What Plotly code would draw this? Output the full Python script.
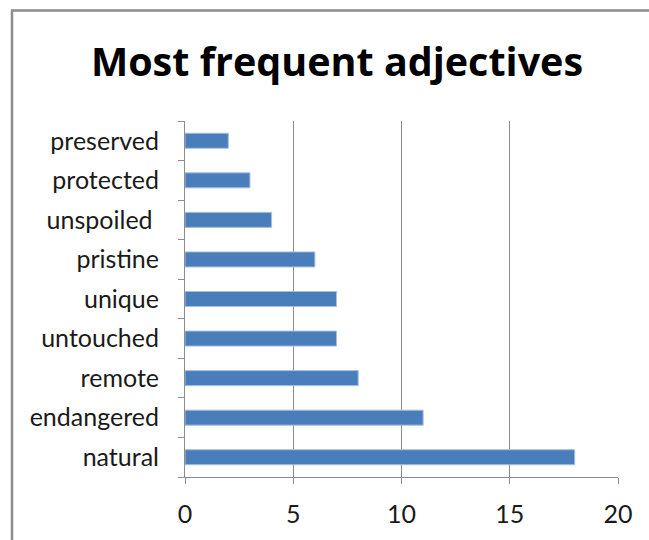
import plotly.graph_objects as go

categories = ["natural", "endangered", "remote", "untouched", "unique",
              "pristine", "unspoiled\u00a0", "protected", "preserved"]
counts = [18, 11, 8, 7, 7, 6, 4, 3, 2]
x_ticks = [0, 5, 10, 15, 20]

W, H = 649, 540
L, R, T, B = 185, 649 - 618, 120.5, 540 - 480
pw, ph = W - L - R, H - T - B

def px_x(px):
    return (px - L) / pw

def px_y(py):
    return 1 - (py - T) / ph

fig = go.Figure()
fig.add_trace(go.Bar(
    x=counts, y=categories, orientation="h",
    marker=dict(color="#4A7EBB", line=dict(color="#A7C0E0", width=1)),
    width=0.38,
))

gray = "#8C8C8C"
font = "Lato, Carlito, Calibri, sans-serif"

fig.update_layout(
    width=W, height=H,
    margin=dict(l=L, r=R, t=T, b=B),
    paper_bgcolor="white", plot_bgcolor="white",
    showlegend=False,
    title=dict(text="<b>Most frequent adjectives</b>", x=337 / W, xanchor="center",
               y=1 - 62 / H, yanchor="middle",
               font=dict(family="Open Sans, sans-serif", size=39.5, color="#000000")),
    font=dict(family=font, size=25, color="#1a1a1a"),
    xaxis=dict(range=[0, 20], tickvals=x_ticks, ticktext=[str(v) for v in x_ticks],
               showgrid=True, gridcolor=gray, gridwidth=1,
               showline=True, linecolor=gray, linewidth=1,
               ticks="outside", ticklen=6, tickcolor=gray,
               zeroline=False, ticklabelstandoff=9, fixedrange=True),
    yaxis=dict(categoryorder="array", categoryarray=categories,
               showgrid=False, showline=True, linecolor=gray, linewidth=1,
               ticks="outside", ticklen=6, tickcolor=gray, tickson="boundaries",
               ticklabelstandoff=20, fixedrange=True),
    shapes=[
        dict(type="line", xref="paper", yref="paper",
             x0=px_x(12), x1=px_x(12), y0=px_y(560), y1=px_y(9),
             line=dict(color=gray, width=2.5)),
        dict(type="line", xref="paper", yref="paper",
             x0=px_x(11), x1=px_x(660), y0=px_y(9), y1=px_y(9),
             line=dict(color=gray, width=2.5)),
    ],
)

fig.write_html(
    "out.html",
    config={"displayModeBar": False},
    post_script="document.body.style.margin='0';document.documentElement.style.overflow='hidden';",
)
